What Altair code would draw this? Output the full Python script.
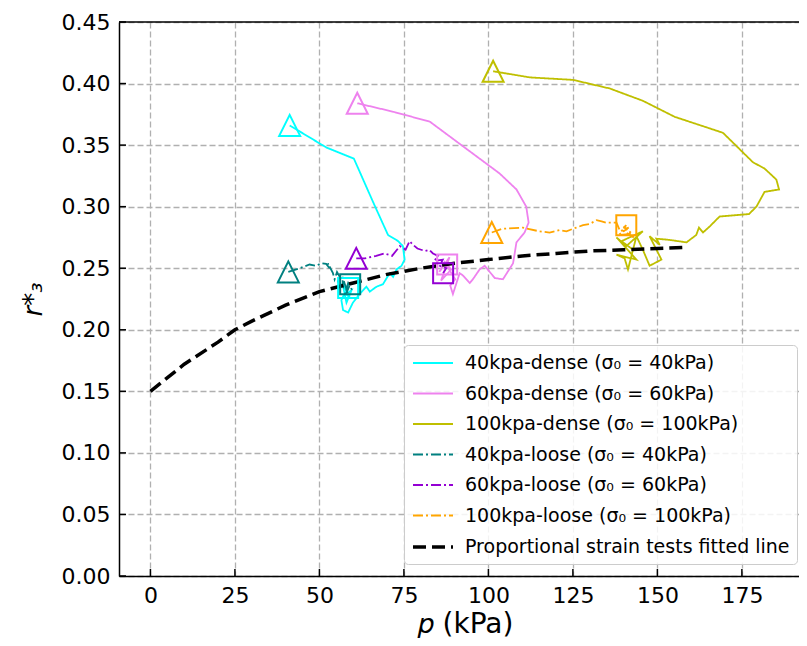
import altair as alt
import pandas as pd

series_names = [
    "40kpa-dense (σ₀ = 40kPa)",
    "60kpa-dense (σ₀ = 60kPa)",
    "100kpa-dense (σ₀ = 100kPa)",
    "40kpa-loose (σ₀ = 40kPa)",
    "60kpa-loose (σ₀ = 60kPa)",
    "100kpa-loose (σ₀ = 100kPa)",
    "Proportional strain tests fitted line",
]
series_colors = ["#00ffff", "#ee82ee", "#bfbf00", "#008080", "#9400d3", "#ffa500", "#000000"]
series_dash = [[1, 0], [1, 0], [1, 0], [10, 3, 2, 3], [10, 3, 2, 3], [10, 3, 2, 3], [13, 6]]
series_width = [1.8, 1.8, 1.8, 1.8, 1.8, 1.8, 3.5]

p_40_dense = [41.2, 52.1, 60.2, 66.0, 70.3, 73.3, 74.7, 75.2, 74.3, 72.8, 71.8, 70.8, 68.8, 66.9,
              64.9, 63.9, 61.9, 59.9, 58.5, 57.0, 56.5, 57.5, 59.0, 56.8, 58.0, 59.5, 57.2, 58.5]
r_40_dense = [0.366, 0.348, 0.339, 0.303, 0.277, 0.272, 0.268, 0.257, 0.252, 0.249, 0.243, 0.246,
              0.237, 0.235, 0.231, 0.235, 0.229, 0.222, 0.214, 0.216, 0.224, 0.230, 0.226, 0.238,
              0.222, 0.232, 0.228, 0.234]

p_60_dense = [61.2, 72.0, 82.7, 92.5, 103.3, 108.3, 111.2, 111.9, 110.7, 108.3, 107.3, 104.3, 101.9,
              98.9, 97.4, 95.4, 94.5, 92.5, 91.5, 89.5, 88.7, 90.2, 87.0, 85.5, 88.5, 86.0, 89.0, 87.8]
r_60_dense = [0.384, 0.377, 0.369, 0.349, 0.327, 0.314, 0.300, 0.287, 0.279, 0.271, 0.254, 0.241,
              0.242, 0.252, 0.249, 0.241, 0.238, 0.244, 0.246, 0.229, 0.236, 0.241, 0.255, 0.247,
              0.259, 0.240, 0.249, 0.253]

p_100_dense = [101.4, 112.2, 125.0, 135.9, 145.7, 155.1, 169.4, 178.3, 181.7, 185.2, 186.0, 181.7,
               179.3, 177.1, 168.4, 165.5, 163.5, 162.3, 161.5, 158.6, 153.6, 149.7, 150.7, 147.7,
               151.2, 147.7, 145.7, 143.8, 141.3, 140.3, 137.9, 143.8, 137.9, 140.8, 145.7, 139.4, 142.8]
r_100_dense = [0.410, 0.405, 0.403, 0.396, 0.386, 0.373, 0.360, 0.336, 0.331, 0.322, 0.314, 0.312,
               0.300, 0.294, 0.292, 0.284, 0.279, 0.283, 0.277, 0.271, 0.273, 0.274, 0.269, 0.276,
               0.257, 0.252, 0.265, 0.276, 0.249, 0.258, 0.261, 0.257, 0.275, 0.268, 0.280, 0.272, 0.265]

p_40_loose = [40.8, 44.2, 47.1, 49.0, 50.6, 52.0, 53.0, 52.5, 54.0, 54.5, 55.2, 56.0, 55.5, 57.0,
              56.8, 58.0, 57.5, 58.5, 59.5, 58.0, 59.1]
r_40_loose = [0.247, 0.250, 0.253, 0.252, 0.254, 0.2535, 0.250, 0.254, 0.246, 0.241, 0.247, 0.243,
              0.239, 0.235, 0.243, 0.233, 0.229, 0.238, 0.233, 0.230, 0.237]

p_60_loose = [60.9, 63.4, 66.8, 69.3, 71.5, 73.8, 75.5, 76.7, 77.7, 79.0, 81.2, 82.5, 83.6, 85.1,
              84.0, 86.5, 85.6, 87.5, 86.6]
r_60_loose = [0.258, 0.258, 0.260, 0.262, 0.260, 0.268, 0.265, 0.272, 0.269, 0.266, 0.264, 0.265,
              0.262, 0.260, 0.256, 0.257, 0.252, 0.250, 0.246]

p_100_loose = [101.0, 104.0, 110.2, 115.0, 118.1, 121.0, 123.1, 126.0, 128.0, 130.0, 132.0, 133.5,
               134.9, 137.9, 139.0, 141.5, 138.5, 142.5, 140.0, 143.0, 139.5, 140.8]
r_100_loose = [0.279, 0.282, 0.283, 0.280, 0.279, 0.281, 0.280, 0.283, 0.285, 0.286, 0.289, 0.288,
               0.287, 0.287, 0.280, 0.283, 0.277, 0.278, 0.284, 0.275, 0.281, 0.285]

fit_p = [0, 10, 20, 25, 30, 40, 50, 60, 70, 80, 90, 100, 110, 120, 130, 140, 150, 159]
fit_r = [0.150, 0.172, 0.190, 0.200, 0.207, 0.220, 0.231, 0.238, 0.245, 0.250, 0.254, 0.257,
         0.260, 0.262, 0.264, 0.265, 0.266, 0.267]

# series whose end square is drawn (the 100kpa-dense one is hidden in its cluster)
end_marker_series = [0, 1, 3, 4, 5]

x_ticks = [0, 25, 50, 75, 100, 125, 150, 175]
y_ticks = [0.0, 0.05, 0.10, 0.15, 0.20, 0.25, 0.30, 0.35, 0.40, 0.45]

all_p = [p_40_dense, p_60_dense, p_100_dense, p_40_loose, p_60_loose, p_100_loose, fit_p]
all_r = [r_40_dense, r_60_dense, r_100_dense, r_40_loose, r_60_loose, r_100_loose, fit_r]

rows = []
for name, ps, rs in zip(series_names, all_p, all_r):
    for i, (p, r) in enumerate(zip(ps, rs)):
        rows.append({"series": name, "i": i, "p": p, "r": r})
lines_df = pd.DataFrame(rows)

mrows = []
for k in range(6):
    mrows.append({"series": series_names[k], "kind": "start", "p": all_p[k][0], "r": all_r[k][0]})
for k in end_marker_series:
    mrows.append({"series": series_names[k], "kind": "end", "p": all_p[k][-1], "r": all_r[k][-1]})
markers_df = pd.DataFrame(mrows)

W, H = 680, 554
xscale = alt.Scale(domain=[-9.3, 191.9], nice=False, zero=False)
yscale = alt.Scale(domain=[0, 0.45], nice=False, zero=False)

legend = alt.Legend(
    title=None, orient="none", legendX=285, legendY=323,
    symbolType="M-1,0L3,0", symbolSize=400, labelFontSize=19, labelFont="DejaVu Sans",
    labelColor="black", labelLimit=0, labelOffset=30, rowPadding=9.5, padding=7,
    fillColor="rgba(255,255,255,0.85)", strokeColor="#cccccc", cornerRadius=4,
)

xaxis = alt.Axis(values=x_ticks, title="𝑝 (kPa)", titleX=346, titleY=56, titleBaseline="alphabetic",
                 titleAlign="center", titleFontSize=28, titleFontWeight="normal")
yaxis = alt.Axis(values=y_ticks, format=".2f", title="r*₃", titleX=-86, titleY=277,
                 titleBaseline="middle", titleAlign="center", titleAngle=-90, titleFontSize=26,
                 titleFontStyle="italic", titleFontWeight="normal")

lines = alt.Chart(lines_df).mark_line().encode(
    x=alt.X("p:Q", scale=xscale, axis=xaxis),
    y=alt.Y("r:Q", scale=yscale, axis=yaxis),
    color=alt.Color("series:N", scale=alt.Scale(domain=series_names, range=series_colors), legend=legend),
    strokeDash=alt.StrokeDash("series:N", scale=alt.Scale(domain=series_names, range=series_dash), legend=legend),
    strokeWidth=alt.StrokeWidth("series:O", scale=alt.Scale(type="ordinal", domain=series_names, range=series_width), legend=legend),
    order=alt.Order("i:Q"),
)

markers = alt.Chart(markers_df).mark_point(filled=False, strokeWidth=2, opacity=1).encode(
    x=alt.X("p:Q", scale=xscale),
    y=alt.Y("r:Q", scale=yscale),
    stroke=alt.Stroke("series:N", scale=alt.Scale(domain=series_names, range=series_colors), legend=None),
    shape=alt.Shape("kind:N", scale=alt.Scale(domain=["start", "end"], range=["M0,-1L-1,1L1,1Z", "square"]), legend=None),
    size=alt.Size("kind:N", scale=alt.Scale(domain=["start", "end"], range=[441, 400]), legend=None),
)

xt = alt.Chart(pd.DataFrame({"t": x_ticks})).mark_rule(color="black", strokeWidth=1.5).encode(
    x=alt.X("t:Q", scale=xscale), y=alt.value(H - 7), y2=alt.value(H))
yt = alt.Chart(pd.DataFrame({"t": y_ticks})).mark_rule(color="black", strokeWidth=1.5).encode(
    y=alt.Y("t:Q", scale=yscale), x=alt.value(0), x2=alt.value(7))
top_spine = alt.Chart(pd.DataFrame({"t": [0]})).mark_rule(color="black", strokeWidth=1.5).encode(
    x=alt.value(0), x2=alt.value(W), y=alt.value(0))

chart = alt.layer(lines, markers, xt, yt, top_spine).properties(
    width=W, height=H,
    autosize=alt.AutoSizeParams(type="none"),
    padding={"left": 111, "top": 14, "right": 0, "bottom": 62},
).configure(font="DejaVu Sans").configure_view(
    strokeWidth=0
).configure_axis(
    grid=True, gridColor="#b0b0b0", gridDash=[6, 3], gridWidth=1.3, gridOpacity=1,
    ticks=False, domain=True, domainColor="black", domainWidth=1.5,
    labelFontSize=22, labelColor="black", labelFont="DejaVu Sans",
    titleColor="black", titleFont="DejaVu Sans", labelPadding=9,
)

chart.save("out.html", embed_options={"renderer": "svg", "actions": False})
